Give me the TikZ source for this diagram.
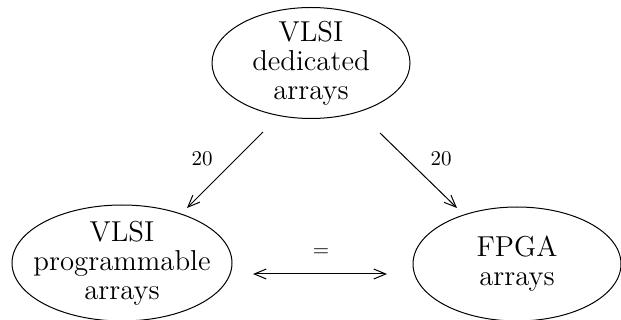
\documentclass[tikz,border=0pt]{standalone}
\usetikzlibrary{shapes.geometric,arrows.meta}
\begin{document}
\begin{tikzpicture}[x=0.5pt,y=-0.5pt,
  oval/.style={draw,ellipse,line width=0.5pt,inner sep=0pt},
  txt/.style={align=center,inner sep=0pt,font=\fontsize{14.4}{14.5}\selectfont},
  conn/.style={line width=0.5pt,-{Straight Barb[length=6pt,width=5pt]}},
  lbl/.style={font=\fontsize{10.5}{12}\selectfont,inner sep=0pt}]
\useasboundingbox (0,0) rectangle (621,320);
\node[oval,minimum width=99pt,minimum height=55.5pt] (top) at (311,63) {};
\node[txt] (ttop) at (top) {VLSI\\dedicated\\arrays};
\node[oval,minimum width=110pt,minimum height=58pt] (left) at (122,263) {};
\node[txt] (tleft) at (left) {VLSI\\programmable\\arrays};
\node[oval,minimum width=104pt,minimum height=57pt] (right) at (517,264) {};
\node[txt] (tright) at (right) {FPGA\\arrays};
\coordinate (a1) at (263,132);
\coordinate (b1) at (187,208);
\coordinate (a2) at (380,133);
\coordinate (b2) at (457,208);
\coordinate (a3) at (253,274);
\coordinate (b3) at (387,274);
\draw[conn] (a1) -- (b1);
\draw[conn] (a2) -- (b2);
\draw[conn,{Straight Barb[length=6pt,width=5pt]}-{Straight Barb[length=6pt,width=5pt]}] (a3) -- (b3);
\node[lbl] (l1) at (202,159) {20};
\node[lbl] (l2) at (441,159) {20};
\node[lbl] (l3) at (321,253) {=};
\end{tikzpicture}
\end{document}
